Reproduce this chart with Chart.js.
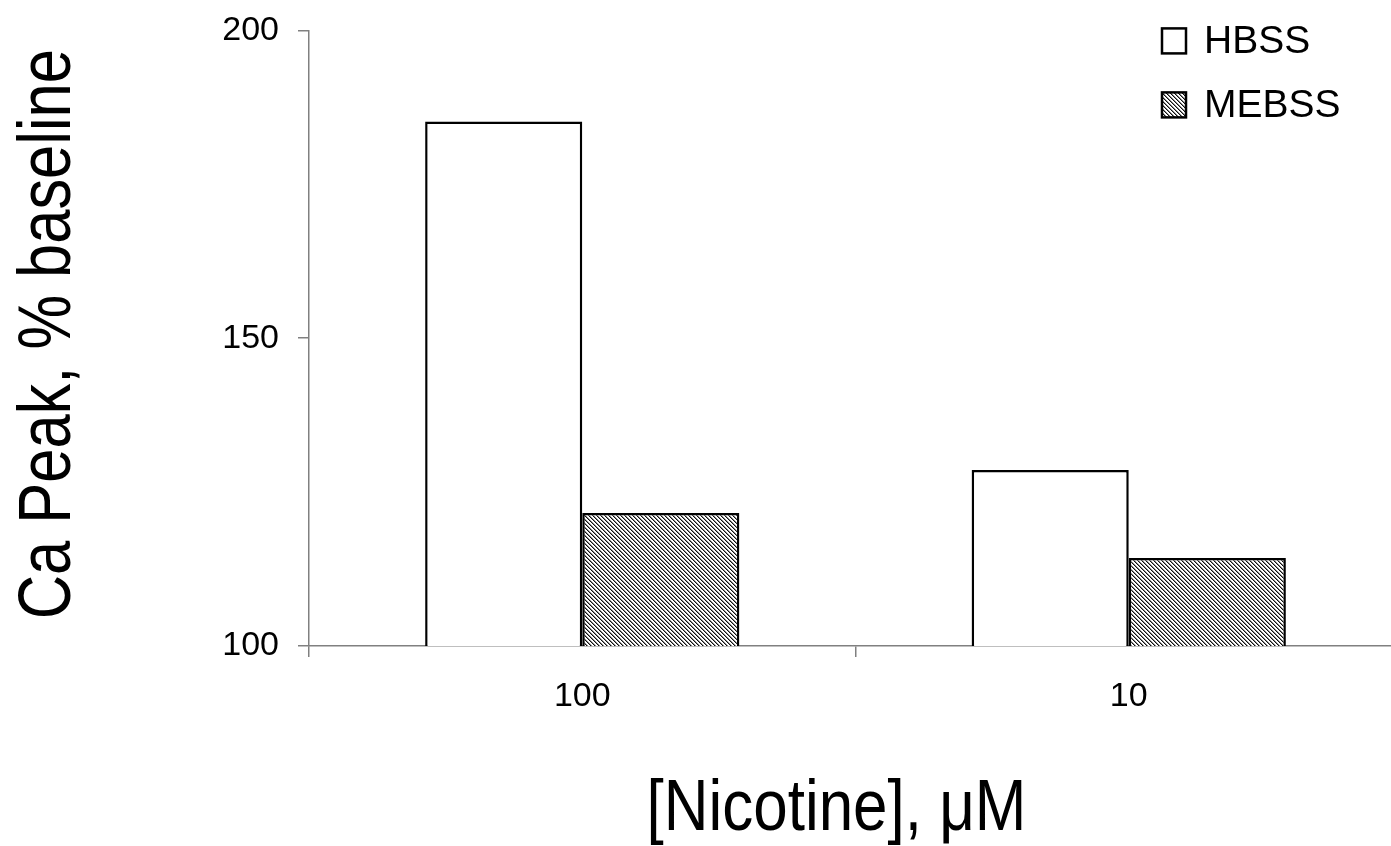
<!DOCTYPE html>
<html>
<head>
<meta charset="utf-8">
<script src="https://cdn.jsdelivr.net/npm/chart.js@4"></script>
<style>
  html, body { margin: 0; padding: 0; background: #fff; overflow: hidden; }
  #wrap { width: 1391px; height: 846px; overflow: hidden; }
  #chart { display: block; margin-top: -9px; }
</style>
</head>
<body>
<div id="wrap"><canvas id="chart" width="1410" height="855"></canvas></div>
<script>
const categories = ['100', '10'];
const hbss = [185.2, 128.6];
const mebss = [121.6, 114.3];
const yTicks = [100, 150, 200];
const xTitle = '[Nicotine], \u03bcM';
const yTitle = 'Ca Peak, % baseline';

// hatch tile for MEBSS, diagonal lines like \\\\
function hatch() {
  const c = document.createElement('canvas');
  c.width = 4; c.height = 4;
  const g = c.getContext('2d');
  g.fillStyle = '#fff';
  g.fillRect(0, 0, 4, 4);
  for (let i = 0; i < 4; i++) {
    g.fillStyle = '#111';
    g.fillRect(i, i, 1, 1);
    g.fillStyle = '#888';
    g.fillRect((i + 1) % 4, i, 1, 1);
  }
  return g.createPattern(c, 'repeat');
}

const sans = "'Liberation Sans', Arial, sans-serif";

const legendBox = {
  id: 'legendBox',
  afterDraw(chart) {
    const ctx = chart.ctx;
    const x = chart.chartArea.right - 240;
    ctx.save();
    ctx.font = '39px ' + sans;
    ctx.textBaseline = 'middle';
    chart.data.datasets.forEach((ds, i) => {
      const y = chart.chartArea.top + 10 + i * 64;
      ctx.fillStyle = ds.backgroundColor;
      ctx.fillRect(x, y - 12, 24, 25);
      ctx.lineWidth = 2.5;
      ctx.strokeStyle = '#000';
      ctx.strokeRect(x, y - 12, 24, 25);
      ctx.fillStyle = '#000';
      ctx.fillText(ds.label, x + 42, y + 2);
    });
    ctx.restore();
  }
};

// axis titles in a condensed look (no narrow font installed, so squeeze it)
const axisTitles = {
  id: 'axisTitles',
  afterDraw(chart) {
    const ctx = chart.ctx;
    const a = chart.chartArea;
    ctx.save();
    ctx.fillStyle = '#000';
    ctx.textAlign = 'center';
    ctx.textBaseline = 'alphabetic';
    ctx.font = '72px ' + sans;
    ctx.save();
    ctx.translate((a.left + a.right) / 2 - 19, a.bottom + 184);
    ctx.scale(0.86, 1);
    ctx.fillText(xTitle, 0, 0);
    ctx.restore();
    ctx.font = '74px ' + sans;
    ctx.translate(70, (a.top + a.bottom) / 2 - 4);
    ctx.rotate(-Math.PI / 2);
    ctx.scale(0.83, 1);
    ctx.fillText(yTitle, 0, 0);
    ctx.restore();
  }
};

new Chart(document.getElementById('chart'), {
  type: 'bar',
  data: {
    labels: categories,
    datasets: [
      { label: 'HBSS', data: hbss, backgroundColor: '#ffffff', borderColor: '#000', borderWidth: 2.5 },
      { label: 'MEBSS', data: mebss, backgroundColor: hatch(), borderColor: '#000', borderWidth: 2.5 }
    ]
  },
  options: {
    responsive: false,
    animation: false,
    layout: { padding: { top: 22, right: 8, left: 0, bottom: 0 } },
    datasets: { bar: { categoryPercentage: 0.575, barPercentage: 1 } },
    plugins: { legend: { display: false }, tooltip: { enabled: false } },
    scales: {
      x: {
        grid: { drawOnChartArea: false, tickLength: 11, color: '#808080', lineWidth: 1.5 },
        border: { color: '#808080', width: 1.5 },
        ticks: { color: '#000', font: { family: sans, size: 34 }, padding: 19 },
        afterFit(s) { s.height = 200; }
      },
      y: {
        min: 100, max: 200,
        afterBuildTicks(s) { s.ticks = yTicks.map(v => ({ value: v })); },
        grid: { drawOnChartArea: false, tickLength: 11, color: '#808080', lineWidth: 1.5 },
        border: { color: '#808080', width: 1.5 },
        ticks: { color: '#000', font: { family: sans, size: 34 }, padding: 19 },
        afterFit(s) { s.width = 309; }
      }
    }
  },
  plugins: [legendBox, axisTitles]
});
</script>
</body>
</html>
